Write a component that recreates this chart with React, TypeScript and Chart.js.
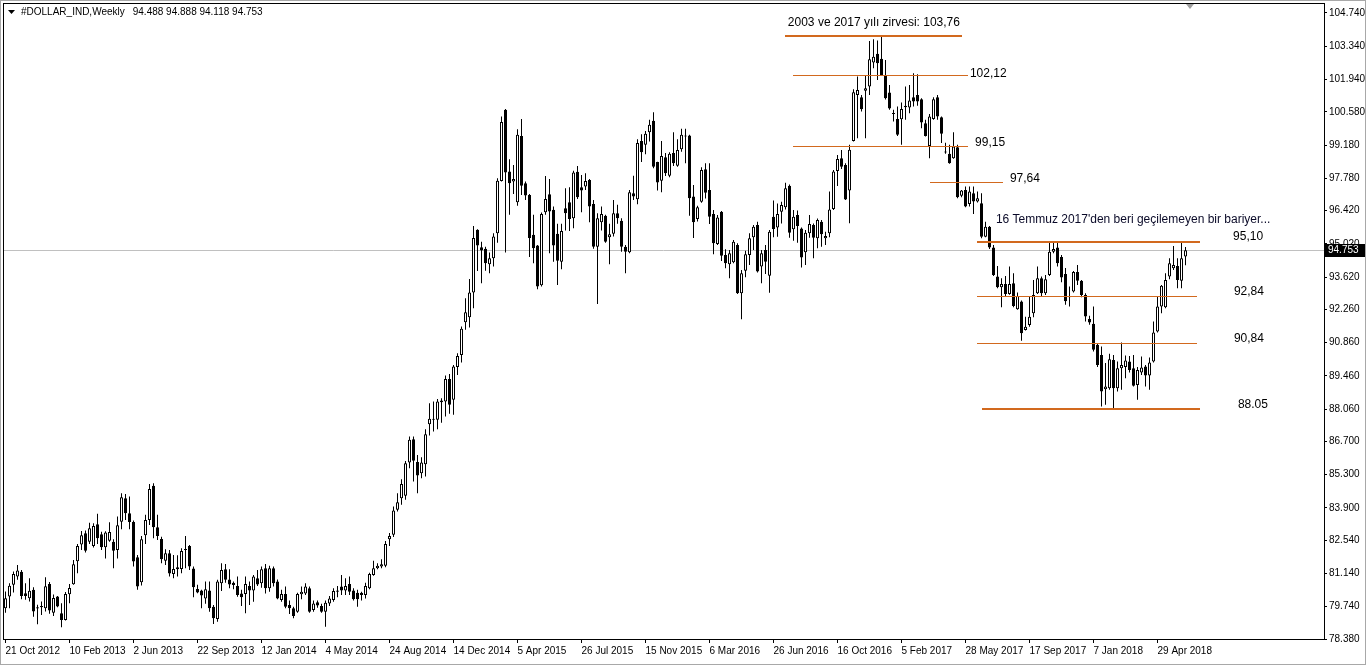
import React, { useEffect, useRef } from "react";
import { Chart, registerables } from "chart.js";

Chart.register(...registerables);

const symbolName = "#DOLLAR_IND,Weekly";

// weekly candles, first bar = week of 21 Oct 2012
const opens = [
  79.68, 80.17, 80.66, 81.01, 81.21, 80.31, 80.10, 80.45, 79.72, 79.77,
  79.68, 80.70, 79.49, 80.17, 79.46, 79.18, 80.26, 80.69, 81.65, 82.36,
  82.83, 82.48, 82.30, 83.21, 82.79, 82.24, 82.52, 82.48, 82.13, 83.32,
  84.31, 83.68, 83.31, 81.82, 80.77, 82.75, 83.39, 84.83, 83.09, 82.59,
  81.68, 81.99, 81.12, 81.32, 81.33, 82.13, 82.30, 81.35, 80.49, 80.42,
  80.09, 80.42, 79.74, 79.22, 80.73, 81.32, 80.89, 80.75, 80.61, 80.30,
  80.28, 80.61, 80.42, 80.94, 80.73, 81.36, 80.52, 81.36, 80.80, 80.02,
  80.28, 79.81, 79.67, 79.53, 80.26, 80.30, 80.52, 79.60, 79.93, 79.77,
  79.53, 79.88, 80.02, 80.37, 80.59, 80.42, 80.70, 80.42, 80.33, 80.33,
  80.23, 80.52, 81.08, 81.36, 81.43, 81.46, 82.58, 82.77, 83.82, 84.31,
  84.41, 85.81, 86.79, 85.83, 85.36, 85.74, 87.42, 87.61, 87.61, 88.35,
  88.38, 89.33, 88.45, 89.83, 90.34, 91.72, 91.93, 92.97, 95.61, 94.88,
  94.81, 94.16, 94.41, 95.47, 97.67, 100.66, 98.06, 97.64, 96.77, 99.56,
  97.57, 97.08, 95.40, 94.95, 93.28, 96.35, 97.11, 96.45, 95.44, 94.27,
  96.52, 96.77, 96.10, 98.05, 97.40, 97.43, 97.71, 96.70, 94.90, 95.93,
  96.20, 95.30, 95.44, 96.31, 95.99, 94.90, 94.67, 97.15, 96.90, 99.35,
  99.19, 99.72, 100.20, 98.46, 97.68, 98.67, 97.89, 98.84, 98.31, 99.00,
  99.54, 99.58, 97.01, 96.06, 96.79, 98.16, 97.29, 96.28, 95.01, 96.37,
  94.55, 94.16, 94.24, 94.97, 92.94, 93.89, 94.55, 95.30, 95.81, 94.06,
  94.76, 93.68, 96.16, 95.71, 96.37, 96.56, 97.47, 95.63, 96.23, 95.67,
  94.66, 95.46, 95.81, 95.25, 95.95, 95.25, 95.46, 96.49, 98.09, 98.62,
  98.34, 97.26, 99.35, 101.29, 101.19, 101.47, 101.64, 102.65, 103.02, 102.81,
  102.13, 101.39, 100.52, 100.28, 100.27, 100.83, 100.76, 101.19, 101.29, 101.11,
  100.10, 99.14, 100.28, 101.19, 100.35, 98.91, 98.81, 98.62, 99.09, 97.04,
  97.29, 96.70, 97.15, 96.80, 96.73, 95.32, 95.74, 94.87, 93.64, 93.19,
  93.33, 92.91, 93.36, 92.26, 92.59, 91.39, 91.60, 92.10, 92.94, 93.57,
  92.94, 93.71, 94.69, 94.86, 94.47, 93.75, 92.80, 93.01, 93.83, 93.47,
  92.87, 91.85, 91.65, 90.77, 90.34, 88.90, 88.94, 90.13, 88.94, 89.78,
  89.83, 90.06, 89.78, 89.08, 89.60, 89.85, 89.47, 90.06, 91.33, 92.38,
  92.35, 93.64, 93.99, 94.09, 93.46, 94.488,
];

const highs = [
  80.38, 80.73, 81.22, 81.50, 81.29, 80.73, 80.94, 80.56, 79.82, 79.96,
  80.98, 80.78, 80.25, 80.19, 79.89, 80.36, 80.70, 81.71, 82.38, 82.93,
  82.95, 83.28, 83.25, 83.65, 82.90, 82.92, 83.30, 82.58, 83.54, 84.52,
  84.49, 84.38, 83.37, 81.92, 82.72, 83.61, 84.91, 84.94, 83.61, 82.69,
  82.16, 82.13, 81.92, 81.91, 82.20, 82.72, 82.34, 81.43, 80.66, 80.45,
  80.80, 80.80, 79.81, 80.87, 81.57, 81.54, 81.32, 80.80, 81.01, 80.45,
  81.01, 80.80, 81.08, 81.29, 81.43, 81.54, 81.46, 81.43, 80.89, 80.45,
  80.59, 80.00, 79.74, 80.33, 80.59, 80.73, 80.59, 80.00, 80.00, 79.86,
  80.00, 80.19, 80.52, 80.61, 81.08, 80.94, 81.01, 80.52, 80.45, 80.37,
  80.75, 81.17, 81.68, 81.57, 81.74, 82.51, 82.84, 83.96, 84.52, 85.11,
  85.88, 86.91, 86.91, 86.13, 86.03, 87.21, 88.31, 88.38, 88.49, 88.52,
  89.47, 89.54, 89.92, 90.41, 91.54, 92.73, 93.54, 95.77, 95.63, 95.11,
  94.90, 94.65, 95.47, 97.78, 100.38, 100.70, 98.58, 98.34, 99.84, 100.28,
  97.64, 97.12, 96.24, 94.97, 96.34, 97.88, 97.75, 96.59, 95.86, 95.86,
  97.36, 97.40, 98.10, 98.30, 97.92, 97.99, 97.75, 96.87, 96.31, 96.59,
  96.24, 95.86, 96.87, 96.66, 96.10, 94.97, 97.29, 97.89, 99.42, 99.63,
  99.77, 100.24, 100.56, 98.48, 99.35, 98.84, 98.88, 99.72, 99.42, 99.86,
  99.86, 99.61, 97.50, 96.62, 98.24, 98.41, 98.41, 96.44, 96.23, 96.40,
  94.79, 94.76, 95.18, 95.04, 93.92, 94.73, 95.46, 95.81, 95.95, 94.76,
  94.97, 95.60, 96.84, 96.72, 96.79, 97.59, 97.52, 96.44, 96.42, 95.71,
  95.60, 96.23, 95.88, 96.09, 96.02, 95.53, 97.22, 98.13, 98.76, 98.97,
  98.41, 99.19, 101.53, 102.06, 101.29, 102.09, 103.56, 103.63, 103.58, 103.78,
  102.76, 101.71, 100.66, 100.80, 100.97, 101.64, 101.71, 102.20, 102.16, 101.15,
  100.24, 100.49, 101.19, 101.29, 100.38, 99.28, 99.19, 99.72, 99.19, 97.29,
  97.43, 97.43, 97.43, 97.22, 97.15, 95.95, 95.77, 94.97, 94.09, 93.57,
  93.67, 94.06, 93.78, 92.97, 92.63, 91.95, 92.80, 93.50, 94.06, 93.64,
  93.71, 95.11, 95.07, 95.07, 94.55, 94.00, 93.22, 93.88, 94.13, 93.50,
  92.94, 91.99, 92.38, 90.84, 90.70, 90.00, 90.39, 90.34, 90.06, 90.86,
  90.32, 90.30, 90.34, 89.83, 90.27, 89.92, 90.23, 91.75, 92.80, 93.29,
  93.78, 94.41, 94.93, 94.41, 95.12, 94.888,
];

const lows = [
  79.49, 79.68, 80.34, 80.87, 80.05, 80.03, 79.96, 79.32, 79.00, 79.39,
  79.54, 79.44, 79.35, 79.72, 78.88, 79.16, 79.89, 80.66, 81.15, 82.13,
  82.02, 82.38, 82.23, 82.38, 82.13, 81.77, 82.48, 81.36, 81.77, 83.00,
  83.39, 83.00, 81.43, 80.45, 80.63, 82.38, 83.18, 82.62, 82.55, 81.57,
  81.50, 81.01, 80.94, 81.01, 81.15, 81.36, 81.29, 80.14, 80.31, 79.67,
  79.86, 79.53, 79.01, 79.11, 80.40, 80.75, 80.52, 80.47, 80.16, 79.77,
  79.46, 79.81, 79.95, 80.61, 80.54, 80.30, 80.37, 80.59, 80.05, 79.95,
  79.67, 79.43, 79.25, 79.49, 80.05, 80.23, 79.49, 79.53, 79.70, 79.49,
  78.90, 79.77, 79.95, 80.14, 80.23, 80.23, 80.23, 80.00, 79.74, 80.00,
  80.09, 80.47, 81.04, 81.32, 81.36, 81.40, 82.30, 82.67, 83.75, 84.03,
  84.24, 85.57, 85.01, 84.52, 85.15, 85.22, 86.95, 87.12, 87.21, 87.49,
  87.75, 87.86, 87.82, 89.50, 90.02, 91.40, 91.50, 92.31, 93.88, 93.36,
  93.89, 93.78, 94.06, 95.07, 97.64, 94.65, 96.24, 97.12, 96.62, 97.08,
  96.87, 94.46, 94.20, 93.11, 93.22, 96.24, 94.62, 94.27, 93.29, 93.95,
  95.58, 95.56, 95.68, 96.91, 96.35, 97.29, 95.93, 94.81, 92.49, 95.58,
  95.07, 94.16, 95.33, 95.86, 94.69, 93.78, 94.62, 96.87, 96.69, 98.46,
  98.79, 99.33, 98.20, 97.26, 97.19, 97.88, 97.82, 98.30, 98.27, 98.90,
  98.41, 96.20, 95.26, 95.96, 96.75, 96.93, 95.85, 94.58, 94.97, 94.30,
  93.99, 93.57, 94.20, 92.91, 91.84, 93.61, 94.13, 94.76, 93.81, 93.36,
  93.75, 92.96, 95.30, 95.32, 95.88, 96.47, 95.28, 95.15, 95.07, 94.02,
  94.13, 95.28, 94.41, 94.83, 94.90, 94.97, 95.30, 96.44, 97.45, 98.17,
  96.86, 95.89, 99.33, 99.47, 100.59, 99.47, 101.29, 102.41, 101.92, 102.10,
  101.10, 100.66, 100.17, 99.56, 99.19, 100.24, 100.52, 100.80, 100.83, 99.89,
  99.54, 98.62, 100.24, 100.24, 99.26, 98.81, 98.39, 98.60, 96.94, 96.98,
  96.56, 96.59, 96.28, 96.76, 95.25, 95.30, 94.80, 93.67, 93.15, 92.35,
  92.82, 92.88, 92.35, 92.24, 90.94, 91.37, 91.53, 91.93, 92.91, 92.82,
  92.87, 93.67, 94.62, 94.06, 93.40, 92.45, 92.38, 92.97, 93.29, 92.77,
  91.75, 91.61, 90.49, 89.83, 88.17, 88.24, 88.87, 88.10, 88.80, 88.87,
  89.36, 89.60, 89.01, 88.45, 89.50, 89.01, 88.87, 90.02, 91.29, 92.10,
  92.31, 93.53, 93.92, 93.15, 93.15, 94.118,
];

const closes = [
  80.10, 80.62, 81.12, 81.26, 80.19, 80.19, 80.41, 79.54, 79.66, 79.72,
  80.60, 79.58, 80.11, 79.75, 79.18, 80.28, 80.53, 81.53, 82.30, 82.75,
  82.10, 83.04, 83.14, 82.62, 82.24, 82.86, 82.89, 82.10, 83.17, 84.35,
  83.68, 83.31, 81.64, 80.59, 82.58, 83.39, 84.70, 83.09, 82.72, 81.74,
  81.99, 81.14, 81.33, 81.40, 82.09, 82.17, 81.43, 80.56, 80.34, 80.21,
  80.47, 79.67, 79.25, 80.80, 81.29, 80.87, 80.68, 80.65, 80.23, 80.14,
  80.70, 80.42, 81.01, 80.68, 81.32, 80.52, 81.36, 80.73, 80.09, 80.28,
  79.74, 79.67, 79.35, 80.28, 80.37, 80.59, 79.53, 79.88, 79.79, 79.53,
  79.91, 80.09, 80.40, 80.42, 80.42, 80.61, 80.37, 80.05, 80.05, 80.23,
  80.61, 81.12, 81.36, 81.46, 81.53, 82.38, 82.72, 83.79, 84.14, 84.91,
  85.78, 86.77, 85.89, 85.26, 85.81, 87.00, 87.65, 87.64, 88.38, 88.42,
  89.33, 88.24, 89.85, 90.30, 91.44, 92.14, 92.97, 95.26, 94.95, 94.74,
  94.20, 94.41, 95.33, 97.68, 100.15, 98.02, 97.57, 97.75, 99.61, 97.47,
  97.05, 95.26, 94.83, 93.22, 96.28, 96.91, 96.38, 94.95, 94.31, 95.56,
  96.31, 96.06, 98.02, 96.98, 97.26, 97.67, 96.59, 94.90, 96.10, 96.28,
  95.11, 95.42, 96.31, 96.10, 94.90, 94.69, 97.19, 97.01, 99.26, 98.88,
  99.65, 100.03, 98.27, 97.60, 98.72, 97.99, 98.81, 98.41, 98.97, 99.61,
  99.58, 96.94, 95.93, 96.56, 98.13, 97.17, 96.16, 95.04, 96.13, 94.52,
  94.20, 94.62, 95.11, 92.94, 93.78, 94.58, 95.25, 95.74, 93.85, 94.62,
  94.27, 95.53, 95.64, 96.28, 96.65, 97.36, 95.49, 96.16, 95.77, 94.44,
  95.49, 95.85, 95.28, 96.02, 95.42, 95.35, 96.47, 98.06, 98.59, 98.27,
  96.89, 98.98, 101.40, 101.50, 100.69, 101.57, 102.79, 102.90, 102.62, 102.13,
  101.15, 100.72, 100.49, 99.61, 100.70, 100.77, 101.05, 101.01, 101.01, 100.13,
  99.56, 100.38, 101.11, 100.38, 99.65, 98.86, 98.41, 99.12, 96.98, 97.26,
  96.59, 97.22, 96.80, 96.94, 95.32, 95.74, 94.87, 93.71, 93.19, 93.33,
  92.91, 93.33, 92.40, 92.82, 91.25, 91.53, 91.95, 92.87, 93.57, 92.94,
  93.53, 94.69, 94.80, 94.20, 93.60, 92.60, 92.77, 93.83, 93.46, 92.87,
  91.96, 91.71, 90.56, 89.92, 88.80, 89.01, 90.16, 88.94, 89.78, 89.92,
  90.11, 89.71, 89.04, 89.71, 89.81, 89.47, 90.02, 91.29, 92.38, 93.25,
  93.50, 94.20, 94.13, 93.50, 94.41, 94.753,
];

const dateTickLabels = [
  "21 Oct 2012", "10 Feb 2013", "2 Jun 2013", "22 Sep 2013", "12 Jan 2014",
  "4 May 2014", "24 Aug 2014", "14 Dec 2014", "5 Apr 2015", "26 Jul 2015",
  "15 Nov 2015", "6 Mar 2016", "26 Jun 2016", "16 Oct 2016", "5 Feb 2017",
  "28 May 2017", "17 Sep 2017", "7 Jan 2018", "29 Apr 2018",
];
const barsPerDateTick = 16;

const priceTicks = [
  104.74, 103.34, 101.94, 100.58, 99.18, 97.78, 96.42, 95.02, 93.62, 92.26,
  90.86, 89.46, 88.06, 86.7, 85.3, 83.9, 82.54, 81.14, 79.74, 78.38,
];

const currentPrice = 94.753;

// horizontal levels drawn on the chart (price, from bar, to bar)
const levelPrices = [103.76, 102.12, 99.15, 97.64, 95.1, 92.84, 90.84, 88.05];
const levelFromBar = [194.9, 196.9, 196.9, 231.1, 242.9, 242.9, 242.9, 244.1];
const levelToBar = [239.1, 240.6, 240.6, 249.4, 298.6, 297.9, 297.9, 298.6];
const levelTexts = [
  "2003 ve 2017 yılı zirvesi: 103,76",
  "102,12", "99,15", "97,64", "95,10", "92,84", "90,84", "88.05",
];
const levelTextBar = [217.1, 241.1, 242.4, 251.1, 306.9, 307.1, 307.1, 308.1];
const noteText = "16 Temmuz 2017'den beri geçilemeyen bir bariyer...";
const noteBar = 247.6;
const notePrice = 96.02;

const LEVEL_COLOR = "#D2691E";
const LEVEL_WIDTH = [2, 1, 1, 1, 2, 1, 1, 2];
const LEVEL_TEXT_LIFT = [13, 2, 4, 4, 5, 5, 5, 4];
const FONT = "'Liberation Sans', Arial, sans-serif";

export default function App() {
  const ref = useRef<HTMLCanvasElement | null>(null);

  useEffect(() => {
    const canvas = ref.current;
    if (!canvas) return;

    const bodies = opens.map((o, i) => ({ x: i, y: [o, closes[i]] }));
    const wicks = lows.map((l, i) => ({ x: i, y: [l, highs[i]] }));
    const bodyColors = opens.map((o, i) => (closes[i] >= o ? "#ffffff" : "#000000"));
    const last = opens.length - 1;

    const overlay = {
      id: "mt4Overlay",
      beforeDraw(chart: any) {
        const { ctx } = chart;
        ctx.save();
        ctx.fillStyle = "#ffffff";
        ctx.fillRect(0, 0, chart.width, chart.height);
        ctx.restore();
      },
      beforeDatasetsDraw(chart: any) {
        const { ctx, chartArea: a, scales } = chart;
        const py = Math.round(scales.y.getPixelForValue(currentPrice)) + 0.5;
        ctx.save();
        ctx.strokeStyle = "#c0c0c0";
        ctx.lineWidth = 1;
        ctx.beginPath();
        ctx.moveTo(a.left, py);
        ctx.lineTo(a.right, py);
        ctx.stroke();
        ctx.restore();
      },
      afterDatasetsDraw(chart: any) {
        const { ctx, scales } = chart;
        const xs = scales.x;
        const ys = scales.y;
        ctx.save();
        levelPrices.forEach((p, k) => {
          const w = LEVEL_WIDTH[k];
          const raw = ys.getPixelForValue(p);
          const py = w % 2 ? Math.round(raw) + 0.5 : Math.round(raw);
          ctx.strokeStyle = LEVEL_COLOR;
          ctx.lineWidth = w;
          ctx.beginPath();
          ctx.moveTo(Math.round(xs.getPixelForValue(levelFromBar[k])), py);
          ctx.lineTo(Math.round(xs.getPixelForValue(levelToBar[k])), py);
          ctx.stroke();

          ctx.fillStyle = "#000000";
          ctx.font = `12px ${FONT}`;
          ctx.textBaseline = "middle";
          ctx.textAlign = k === 0 ? "center" : "left";
          ctx.fillText(levelTexts[k], xs.getPixelForValue(levelTextBar[k]), py - LEVEL_TEXT_LIFT[k]);
        });
        ctx.fillStyle = "#0a0a28";
        ctx.font = `12px ${FONT}`;
        ctx.textAlign = "left";
        ctx.textBaseline = "middle";
        ctx.fillText(noteText, xs.getPixelForValue(noteBar), ys.getPixelForValue(notePrice));
        ctx.restore();
      },
      afterDraw(chart: any) {
        const { ctx, chartArea: a, scales } = chart;
        ctx.save();
        // outer window edge
        ctx.strokeStyle = "#a8a8a8";
        ctx.lineWidth = 1;
        ctx.strokeRect(0.5, 0.5, chart.width - 1, chart.height - 1);
        // chart frame
        ctx.strokeStyle = "#000000";
        ctx.strokeRect(a.left + 0.5, a.top + 0.5, a.right - a.left, a.bottom - a.top);

        // header
        ctx.fillStyle = "#000000";
        ctx.beginPath();
        ctx.moveTo(a.left + 5, a.top + 7);
        ctx.lineTo(a.left + 12, a.top + 7);
        ctx.lineTo(a.left + 8.5, a.top + 11);
        ctx.closePath();
        ctx.fill();
        ctx.font = `10px ${FONT}`;
        ctx.textAlign = "left";
        ctx.textBaseline = "middle";
        const nameX = a.left + 18;
        ctx.fillText(symbolName, nameX, a.top + 9.5);
        const vals = [opens[last], highs[last], lows[last], closes[last]]
          .map((v) => v.toFixed(3))
          .join(" ");
        ctx.fillText(vals, nameX + ctx.measureText(symbolName).width + 8, a.top + 9.5);

        // chart shift marker
        ctx.fillStyle = "#a0a0a0";
        const sx = Math.round(scales.x.getPixelForValue(last + 1.2));
        ctx.beginPath();
        ctx.moveTo(sx - 4, a.top + 1);
        ctx.lineTo(sx + 4, a.top + 1);
        ctx.lineTo(sx, a.top + 6);
        ctx.closePath();
        ctx.fill();

        // current price box on the axis
        const py = Math.round(scales.y.getPixelForValue(currentPrice));
        ctx.fillStyle = "#000000";
        ctx.fillRect(a.right + 1, py - 6, 40, 13);
        ctx.fillStyle = "#ffffff";
        ctx.font = `10px ${FONT}`;
        ctx.fillText(currentPrice.toFixed(3), a.right + 4, py + 0.5);
        ctx.restore();
      },
    };

    const chart = new Chart(canvas, {
      type: "bar",
      data: {
        datasets: [
          {
            data: bodies as any,
            backgroundColor: bodyColors,
            borderColor: "#000000",
            borderWidth: 1,
            borderSkipped: false,
            barThickness: 3,
            minBarLength: 1,
            grouped: false,
            inflateAmount: 0,
            order: 0,
          } as any,
          {
            data: wicks as any,
            backgroundColor: "#000000",
            borderWidth: 0,
            barThickness: 1,
            grouped: false,
            inflateAmount: 0,
            order: 1,
          } as any,
        ],
      },
      options: {
        animation: false,
        responsive: false,
        maintainAspectRatio: false,
        devicePixelRatio: 1,
        events: [],
        layout: { padding: { left: 3, top: 3, right: 0, bottom: 0 } },
        plugins: { legend: { display: false }, tooltip: { enabled: false }, title: { display: false } },
        scales: {
          x: {
            type: "linear",
            min: -0.625,
            max: 329.625,
            offset: false,
            afterBuildTicks: (s: any) => {
              s.ticks = dateTickLabels.map((_, k) => ({ value: k * barsPerDateTick }));
            },
            afterFit: (s: any) => {
              s.height = 26;
              s.paddingLeft = 0;
              s.paddingRight = 0;
            },
            grid: {
              offset: false,
              drawOnChartArea: false,
              drawTicks: true,
              tickLength: 4,
              color: "#000000",
            },
            border: { display: false },
            ticks: {
              autoSkip: false,
              maxRotation: 0,
              align: "start",
              padding: 2,
              color: "#000000",
              font: { family: FONT, size: 10 },
              callback: (_v: any, idx: number) => dateTickLabels[idx],
            },
          },
          y: {
            position: "right",
            min: 78.38,
            max: 105.16,
            beginAtZero: false,
            afterBuildTicks: (s: any) => {
              s.ticks = priceTicks.map((v) => ({ value: v }));
            },
            afterFit: (s: any) => {
              s.width = 42;
              s.paddingTop = 0;
              s.paddingBottom = 0;
            },
            grid: {
              drawOnChartArea: false,
              drawTicks: true,
              tickLength: 3,
              color: "#000000",
            },
            border: { display: false },
            ticks: {
              autoSkip: false,
              padding: 2,
              color: "#000000",
              font: { family: FONT, size: 10 },
              callback: (v: any) => Number(v).toFixed(3),
            },
          },
        },
      } as any,
      plugins: [overlay],
    });

    return () => chart.destroy();
  }, []);

  return (
    <div style={{ position: "fixed", left: 0, top: 0, width: 1366, height: 665, background: "#ffffff" }}>
      <canvas ref={ref} width={1366} height={665} style={{ display: "block", width: 1366, height: 665 }} />
    </div>
  );
}
